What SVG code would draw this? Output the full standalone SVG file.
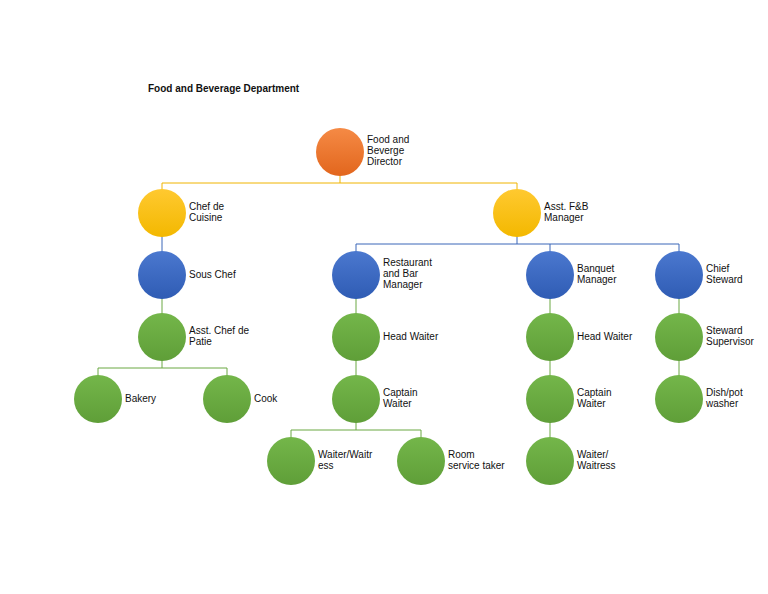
<svg xmlns="http://www.w3.org/2000/svg" width="768" height="594" viewBox="0 0 768 594">
<style>
text{font-family:"Liberation Sans",Arial,sans-serif;font-size:10px;fill:#111}
.o{fill:url(#go)}.y{fill:url(#gy)}.b{fill:url(#gb)}.g{fill:url(#gg)}
.cy{stroke:#f0b400;fill:none;stroke-width:1}.cb{stroke:#3a67b8;fill:none;stroke-width:1}.cg{stroke:#6aa843;fill:none;stroke-width:1}
</style>
<defs>
<linearGradient id="go" x1="0" y1="0" x2="0" y2="1"><stop offset="0" stop-color="#f58a45"/><stop offset="1" stop-color="#e2661d"/></linearGradient>
<linearGradient id="gy" x1="0" y1="0" x2="0" y2="1"><stop offset="0" stop-color="#ffc930"/><stop offset="1" stop-color="#f3b800"/></linearGradient>
<linearGradient id="gb" x1="0" y1="0" x2="0" y2="1"><stop offset="0" stop-color="#4b78cf"/><stop offset="1" stop-color="#2f5cb4"/></linearGradient>
<linearGradient id="gg" x1="0" y1="0" x2="0" y2="1"><stop offset="0" stop-color="#74b64a"/><stop offset="1" stop-color="#5f9e38"/></linearGradient>
</defs>
<rect width="768" height="594" fill="#fff"/>
<text x="148" y="92" style="font-weight:bold">Food and Beverage Department</text>
<g id="connectors">
<path class="cy" d="M340 176V183M162 183H517M162 183V190M517 183V190"/>
<path class="cb" d="M162 236V252M517 236V244M356 244H679M356 244V252M550 244V252M679 244V252"/>
<path class="cg" d="M162 298V314M162 360V368M98 368H227M98 368V376M227 368V376M356 298V314M356 360V376M356 422V430M291 430H421M291 430V438M421 430V438M550 298V314M550 360V376M550 422V438M679 298V314M679 360V376"/>
</g>
<g id="n1"><circle class="o" cx="340" cy="152" r="24"/><text x="367" y="143">Food and</text><text x="367" y="154">Beverge</text><text x="367" y="165">Director</text></g>
<g id="n2"><circle class="y" cx="162" cy="213" r="24"/><text x="189" y="210">Chef de</text><text x="189" y="221">Cuisine</text></g>
<g id="n3"><circle class="y" cx="517" cy="213" r="24"/><text x="544" y="210">Asst. F&amp;B</text><text x="544" y="221">Manager</text></g>
<g id="n4"><circle class="b" cx="162" cy="275" r="24"/><text x="189" y="278">Sous Chef</text></g>
<g id="n5"><circle class="g" cx="162" cy="337" r="24"/><text x="189" y="334">Asst. Chef de</text><text x="189" y="345">Patie</text></g>
<g id="n6"><circle class="g" cx="98" cy="399" r="24"/><text x="125" y="402">Bakery</text></g>
<g id="n7"><circle class="g" cx="227" cy="399" r="24"/><text x="254" y="402">Cook</text></g>
<g id="n8"><circle class="b" cx="356" cy="275" r="24"/><text x="383" y="266">Restaurant</text><text x="383" y="277">and Bar</text><text x="383" y="288">Manager</text></g>
<g id="n9"><circle class="g" cx="356" cy="337" r="24"/><text x="383" y="340">Head Waiter</text></g>
<g id="n10"><circle class="g" cx="356" cy="399" r="24"/><text x="383" y="396">Captain</text><text x="383" y="407">Waiter</text></g>
<g id="n11"><circle class="g" cx="291" cy="461" r="24"/><text x="318" y="458">Waiter/Waitr</text><text x="318" y="469">ess</text></g>
<g id="n12"><circle class="g" cx="421" cy="461" r="24"/><text x="448" y="458">Room</text><text x="448" y="469">service taker</text></g>
<g id="n13"><circle class="b" cx="550" cy="275" r="24"/><text x="577" y="272">Banquet</text><text x="577" y="283">Manager</text></g>
<g id="n14"><circle class="g" cx="550" cy="337" r="24"/><text x="577" y="340">Head Waiter</text></g>
<g id="n15"><circle class="g" cx="550" cy="399" r="24"/><text x="577" y="396">Captain</text><text x="577" y="407">Waiter</text></g>
<g id="n16"><circle class="g" cx="550" cy="461" r="24"/><text x="577" y="458">Waiter/</text><text x="577" y="469">Waitress</text></g>
<g id="n17"><circle class="b" cx="679" cy="275" r="24"/><text x="706" y="272">Chief</text><text x="706" y="283">Steward</text></g>
<g id="n18"><circle class="g" cx="679" cy="337" r="24"/><text x="706" y="334">Steward</text><text x="706" y="345">Supervisor</text></g>
<g id="n19"><circle class="g" cx="679" cy="399" r="24"/><text x="706" y="396">Dish/pot</text><text x="706" y="407">washer</text></g>
</svg>
